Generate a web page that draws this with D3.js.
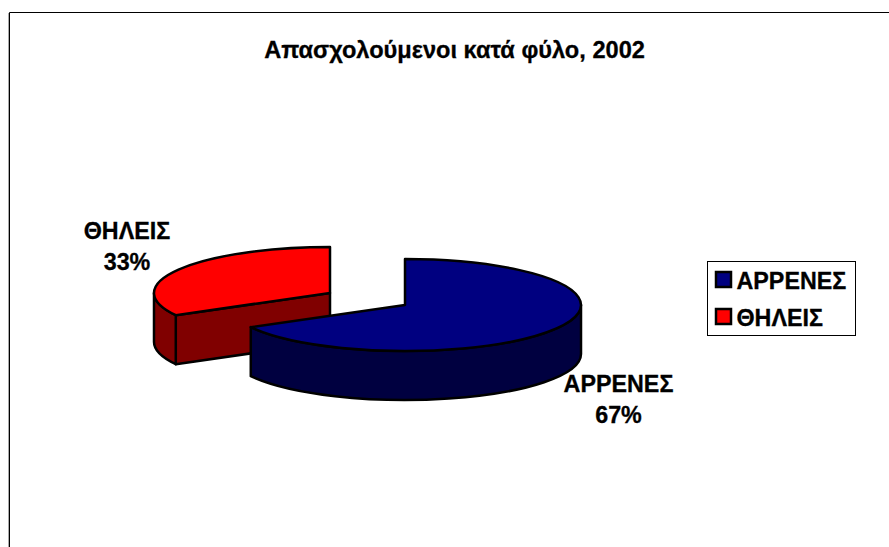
<!DOCTYPE html>
<html>
<head>
<meta charset="utf-8">
<script src="https://cdn.jsdelivr.net/npm/d3@7"></script>
<style>
  html, body { margin: 0; padding: 0; background: #fff; }
  svg { display: block; }
  text { font-family: "Liberation Sans", Arial, sans-serif; font-weight: bold; fill: #000; stroke: #000; stroke-width: 0.3px; }
</style>
</head>
<body>
<svg id="chart" width="889" height="547"></svg>
<script>
var title = 'Απασχολούμενοι κατά φύλο, 2002';
var categories = ['ΑΡΡΕΝΕΣ', 'ΘΗΛΕΙΣ'];
var values = [67, 33];
var topColors = ['#000080', '#ff0000'];
var wallColors = ['#000040', '#800000'];

var width = 889, height = 547;
var rx = 176, ry = 46, depth = 49;
var fontSize = '23.3px';
// where each slice's apex sits, the red one is pulled out
var centers = [[405, 305], [330, 293]];
var labelPos = [[618.5, 392], [127, 239]];

var svg = d3.select('#chart');

// chart area frame, open on the right and bottom
svg.append('path').attr('d', 'M8.5,13V' + height).attr('stroke', '#aaa').attr('fill', 'none');
svg.append('path').attr('d', 'M9.5,' + height + 'V12.5H' + width).attr('stroke', '#000').attr('fill', 'none');

svg.append('text')
  .attr('x', 454.5).attr('y', 58)
  .attr('text-anchor', 'middle')
  .style('font-size', '23.6px')
  .text(title);

var slices = d3.pie().sort(null)(values);

function pt(c, a, dy) {
  return [c[0] + rx * Math.sin(a), c[1] - ry * Math.cos(a) + (dy || 0)];
}

function ell(a0, a1, sweep) {
  return 'A' + rx + ',' + ry + ' 0 ' + (Math.abs(a1 - a0) > Math.PI ? 1 : 0) + ' ' + sweep + ' ';
}

// draw back to front, second slice is behind
var order = d3.range(slices.length).reverse();

order.forEach(function(i) {
  var s = slices[i], c = centers[i];
  var g = svg.append('g')
    .attr('stroke', '#000')
    .attr('stroke-width', 2.5)
    .attr('stroke-linejoin', 'round');

  // flat cut face along the slice's end edge, when it faces the viewer
  var startPt = pt(c, s.startAngle);
  if (s.startAngle > Math.PI) {
    g.append('path')
      .attr('fill', wallColors[i])
      .attr('d', 'M' + c + 'L' + startPt + 'L' + [startPt[0], startPt[1] + depth] + 'L' + [c[0], c[1] + depth] + 'Z');
  }

  // outer wall, only the front half of the ellipse shows
  var a0 = Math.max(s.startAngle, Math.PI / 2), a1 = Math.min(s.endAngle, 3 * Math.PI / 2);
  if (a1 > a0) {
    var p0 = pt(c, a0), p1 = pt(c, a1), q1 = pt(c, a1, depth), q0 = pt(c, a0, depth);
    g.append('path')
      .attr('fill', wallColors[i])
      .attr('d', 'M' + p0 + ell(a0, a1, 1) + p1 + 'L' + q1 + ell(a0, a1, 0) + q0 + 'Z');
  }

  // top face: a circular d3.arc squashed to an ellipse
  var arc = d3.arc().innerRadius(0).outerRadius(rx);
  g.append('path')
    .attr('fill', topColors[i])
    .attr('vector-effect', 'non-scaling-stroke')
    .attr('transform', 'translate(' + c + ') scale(1,' + (ry / rx) + ')')
    .attr('d', arc(s));

  var lab = svg.append('text')
    .attr('text-anchor', 'middle')
    .style('font-size', fontSize);
  lab.append('tspan').attr('x', labelPos[i][0]).attr('y', labelPos[i][1]).text(categories[i]);
  lab.append('tspan').attr('x', labelPos[i][0]).attr('y', labelPos[i][1] + 31).text(values[i] + '%');
});

// legend
var legend = svg.append('g').attr('transform', 'translate(707.5,261.5)');
legend.append('rect')
  .attr('width', 148).attr('height', 74)
  .attr('fill', '#fff').attr('stroke', '#000');
var legendY = d3.scalePoint().domain(categories).range([19, 56]);
categories.forEach(function(name, i) {
  legend.append('rect')
    .attr('x', 8.5).attr('y', legendY(name) - 8.5)
    .attr('width', 15).attr('height', 15)
    .attr('fill', topColors[i])
    .attr('stroke', '#000').attr('stroke-width', 2.5);
  legend.append('text')
    .attr('x', 29).attr('y', legendY(name) + 8)
    .style('font-size', fontSize)
    .text(name);
});
</script>
</body>
</html>
